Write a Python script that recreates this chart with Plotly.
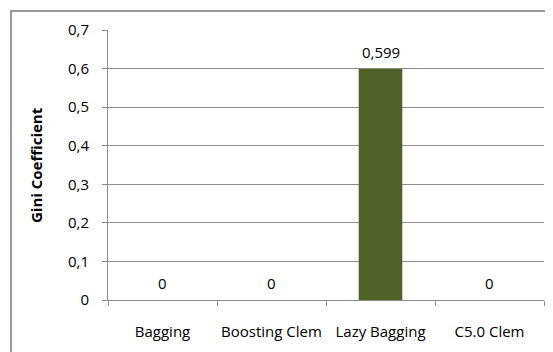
import plotly.graph_objects as go

categories = ["Bagging", "Boosting Clem", "Lazy Bagging", "C5.0 Clem"]
gini_values = [0, 0, 0.599, 0]
y_tick_values = [0, 0.1, 0.2, 0.3, 0.4, 0.5, 0.6, 0.7]
y_tick_labels = ["0", "0,1", "0,2", "0,3", "0,4", "0,5", "0,6", "0,7"]
y_title = "Gini Coefficient"

FONT = "Open Sans"
GRID = "#8c8c8c"
FS = 15

# page body has an 8px default margin; compensate so the plot sits where intended
OFF = 8
W, H = 553 - OFF, 352 - OFF
L, R, T, B = 108 - OFF, 9, 30 - OFF, 52
pw = W - L - R
ph = H - T - B


def fmt(v):
    return "0" if v == 0 else str(v).replace(".", ",")


def px_x(p):
    return (p - OFF - L) / pw


def px_y(p):
    return (T + ph - (p - OFF)) / ph


fig = go.Figure()
fig.add_trace(go.Bar(
    x=categories,
    y=gini_values,
    marker=dict(color="#4F6228", line=dict(width=0)),
    width=0.4,
    hoverinfo="skip",
))

for c, v in zip(categories, gini_values):
    fig.add_annotation(
        x=c, y=v, xref="x", yref="y",
        text=fmt(v), showarrow=False,
        yanchor="bottom", yshift=5,
        font=dict(family=FONT, size=FS, color="#000"),
    )

fig.add_annotation(
    x=px_x(36), y=0.5, xref="paper", yref="paper",
    text="<b>" + y_title + "</b>", textangle=-90, showarrow=False,
    xanchor="center", yanchor="middle",
    font=dict(family=FONT, size=FS, color="#000"),
)

# outer chart border (left and top edges; right/bottom lie outside the view)
border = dict(color="#9a9a9a", width=2)
fig.add_shape(type="line", xref="paper", yref="paper",
              x0=px_x(11), x1=px_x(11), y0=px_y(11), y1=px_y(360),
              line=border, layer="above")
fig.add_shape(type="line", xref="paper", yref="paper",
              x0=px_x(10), x1=px_x(553), y0=px_y(11), y1=px_y(11),
              line=border, layer="above")

fig.update_layout(
    width=W, height=H,
    margin=dict(l=L, r=R, t=T, b=B, pad=0, autoexpand=False),
    paper_bgcolor="white", plot_bgcolor="white",
    showlegend=False,
    separators=",.",
    font=dict(family=FONT, size=FS, color="#000"),
    xaxis=dict(
        type="category",
        showline=True, linecolor=GRID, linewidth=1,
        ticks="outside", ticklen=5, tickcolor=GRID, tickson="boundaries",
        showgrid=False, ticklabelstandoff=18, tickangle=0,
        tickfont=dict(family=FONT, size=FS, color="#000"),
        range=[-0.5, 3.5], automargin=False,
    ),
    yaxis=dict(
        range=[0, 0.7],
        tickvals=y_tick_values, ticktext=y_tick_labels,
        showline=True, linecolor=GRID, linewidth=1,
        ticks="outside", ticklen=5, tickcolor=GRID,
        showgrid=True, gridcolor=GRID, gridwidth=1,
        zeroline=False, ticklabelstandoff=10, automargin=False,
        tickfont=dict(family=FONT, size=FS, color="#000"),
    ),
)

fig.write_html("out.html")
